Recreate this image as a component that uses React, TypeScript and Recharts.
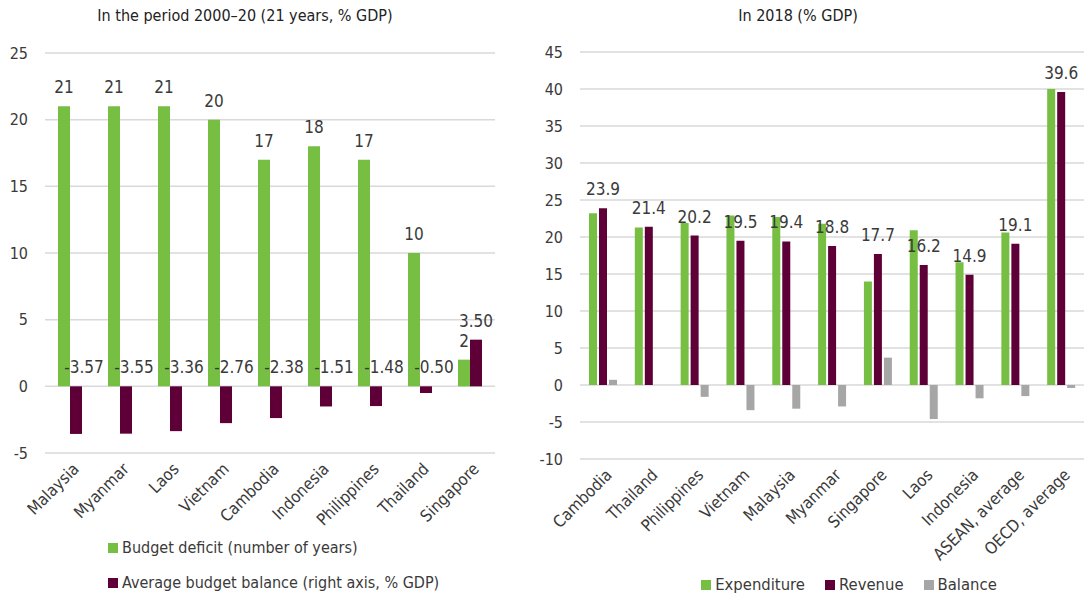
import React from 'react';
import { BarChart, Bar, XAxis, YAxis, CartesianGrid, LabelList } from 'recharts';

const leftCountries = ['Malaysia', 'Myanmar', 'Laos', 'Vietnam', 'Cambodia', 'Indonesia', 'Philippines', 'Thailand', 'Singapore'];
const deficitYears = [21, 21, 21, 20, 17, 18, 17, 10, 2];
const avgBalance = [-3.57, -3.55, -3.36, -2.76, -2.38, -1.51, -1.48, -0.5, 3.5];
const leftTicks = [-5, 0, 5, 10, 15, 20, 25];

const rightCountries = ['Cambodia', 'Thailand', 'Philippines', 'Vietnam', 'Malaysia', 'Myanmar', 'Singapore', 'Laos', 'Indonesia', 'ASEAN, average', 'OECD, average'];
const expenditure = [23.2, 21.3, 21.9, 22.9, 22.7, 21.8, 14.0, 20.9, 16.6, 20.6, 40.0];
const revenue = [23.9, 21.4, 20.2, 19.5, 19.4, 18.8, 17.7, 16.2, 14.9, 19.1, 39.6];
const balance = [0.7, 0, -1.6, -3.4, -3.2, -2.9, 3.7, -4.6, -1.8, -1.5, -0.4];
const rightTicks = [-10, -5, 0, 5, 10, 15, 20, 25, 30, 35, 40, 45];

const GREEN = '#76bf43';
const MAROON = '#5e0037';
const GREY = '#a6a6a6';
const TEXT = '#3a3a3a';
const FONT = "'Liberation Sans Narrow', 'DejaVu Sans Condensed', 'Roboto Condensed', Roboto, sans-serif";

const leftData = leftCountries.map((name, i) => ({ name, deficit: deficitYears[i], balance: avgBalance[i] }));
const rightData = rightCountries.map((name, i) => ({ name, expenditure: expenditure[i], revenue: revenue[i], balance: balance[i] }));

const RotTick = (props: any) => {
  const { x, y, payload } = props;
  const ax = x + 10;
  const ay = y + 9;
  return (
    <text x={ax} y={ay} transform={`rotate(-45 ${ax} ${ay})`} textAnchor="end" fill={TEXT} fontSize={16.5} fontFamily={FONT}>
      {payload.value}
    </text>
  );
};

const makeLabel = (digits: number, shiftNeg: number) => (props: any) => {
  const { x, y, width, height, value } = props;
  const top = Math.min(y, y + height);
  const cx = x + width / 2 + (value < 0 ? shiftNeg : 0);
  return (
    <text x={cx} y={top - 13} textAnchor="middle" fill={TEXT} fontSize={17} fontFamily={FONT}>
      {Number(value).toFixed(digits)}
    </text>
  );
};

const titleStyle: React.CSSProperties = {
  position: 'absolute', top: 6, fontFamily: FONT, fontSize: 16, color: '#222', whiteSpace: 'nowrap',
};

const sq = (c: string): React.CSSProperties => ({ display: 'inline-block', width: 10, height: 10, background: c, marginRight: 4 });

export default function App() {
  const tickStyle = { fill: TEXT, fontSize: 16, fontFamily: FONT };
  return (
    <div style={{ position: 'fixed', left: 0, top: 0, width: 1086, height: 596, background: '#fff' }}>
      <div style={{ ...titleStyle, left: 0, width: 490, textAlign: 'center' }}>In the period 2000–20 (21 years, % GDP)</div>
      <div style={{ ...titleStyle, left: 580, width: 436, textAlign: 'center' }}>In 2018 (% GDP)</div>

      <div style={{ position: 'absolute', left: 0, top: 0 }}>
        <BarChart width={540} height={596} data={leftData} margin={{ top: 53, right: 45, left: 0, bottom: 0 }} barGap={0}>
          <CartesianGrid vertical={false} stroke="#d9d9d9" strokeWidth={1.5} />
          <XAxis dataKey="name" axisLine={false} tickLine={false} height={143} interval={0} tick={<RotTick />} />
          <YAxis width={45} domain={[-5, 25]} ticks={leftTicks} axisLine={false} tickLine={false} tickMargin={11} tick={tickStyle} />
          <Bar dataKey="deficit" fill={GREEN} barSize={12} isAnimationActive={false}>
            <LabelList dataKey="deficit" content={makeLabel(0, 0)} />
          </Bar>
          <Bar dataKey="balance" fill={MAROON} barSize={12} isAnimationActive={false}>
            <LabelList dataKey="balance" content={makeLabel(2, 8)} />
          </Bar>
        </BarChart>
      </div>

      <div style={{ position: 'absolute', left: 540, top: 0 }}>
        <BarChart width={546} height={596} data={rightData} margin={{ top: 52, right: 2, left: 0, bottom: 0 }} barGap={2}>
          <CartesianGrid vertical={false} stroke="#d9d9d9" strokeWidth={1.5} />
          <XAxis dataKey="name" axisLine={false} tickLine={false} height={137} interval={0} tick={<RotTick />} />
          <YAxis width={40} domain={[-10, 45]} ticks={rightTicks} axisLine={false} tickLine={false} tickMargin={11} tick={tickStyle} />
          <Bar dataKey="expenditure" fill={GREEN} barSize={8} isAnimationActive={false} />
          <Bar dataKey="revenue" fill={MAROON} barSize={8} isAnimationActive={false}>
            <LabelList dataKey="revenue" content={makeLabel(1, 0)} />
          </Bar>
          <Bar dataKey="balance" fill={GREY} barSize={8} isAnimationActive={false} />
        </BarChart>
      </div>

      <div style={{ position: 'absolute', left: 108, top: 538, fontFamily: FONT, fontSize: 16, color: TEXT, lineHeight: '20px' }}>
        <div style={{ display: 'flex', alignItems: 'center' }}><span style={sq(GREEN)} />Budget deficit (number of years)</div>
        <div style={{ display: 'flex', alignItems: 'center', marginTop: 15 }}><span style={sq(MAROON)} />Average budget balance (right axis, % GDP)</div>
      </div>

      <div style={{ position: 'absolute', left: 540, width: 546, top: 575, display: 'flex', justifyContent: 'center', paddingLeft: 72, boxSizing: 'border-box', fontFamily: FONT, fontSize: 16.5, color: TEXT, lineHeight: '20px' }}>
        <div style={{ display: 'flex', alignItems: 'center', marginRight: 20 }}><span style={sq(GREEN)} />Expenditure</div>
        <div style={{ display: 'flex', alignItems: 'center', marginRight: 20 }}><span style={sq(MAROON)} />Revenue</div>
        <div style={{ display: 'flex', alignItems: 'center' }}><span style={sq(GREY)} />Balance</div>
      </div>
    </div>
  );
}
